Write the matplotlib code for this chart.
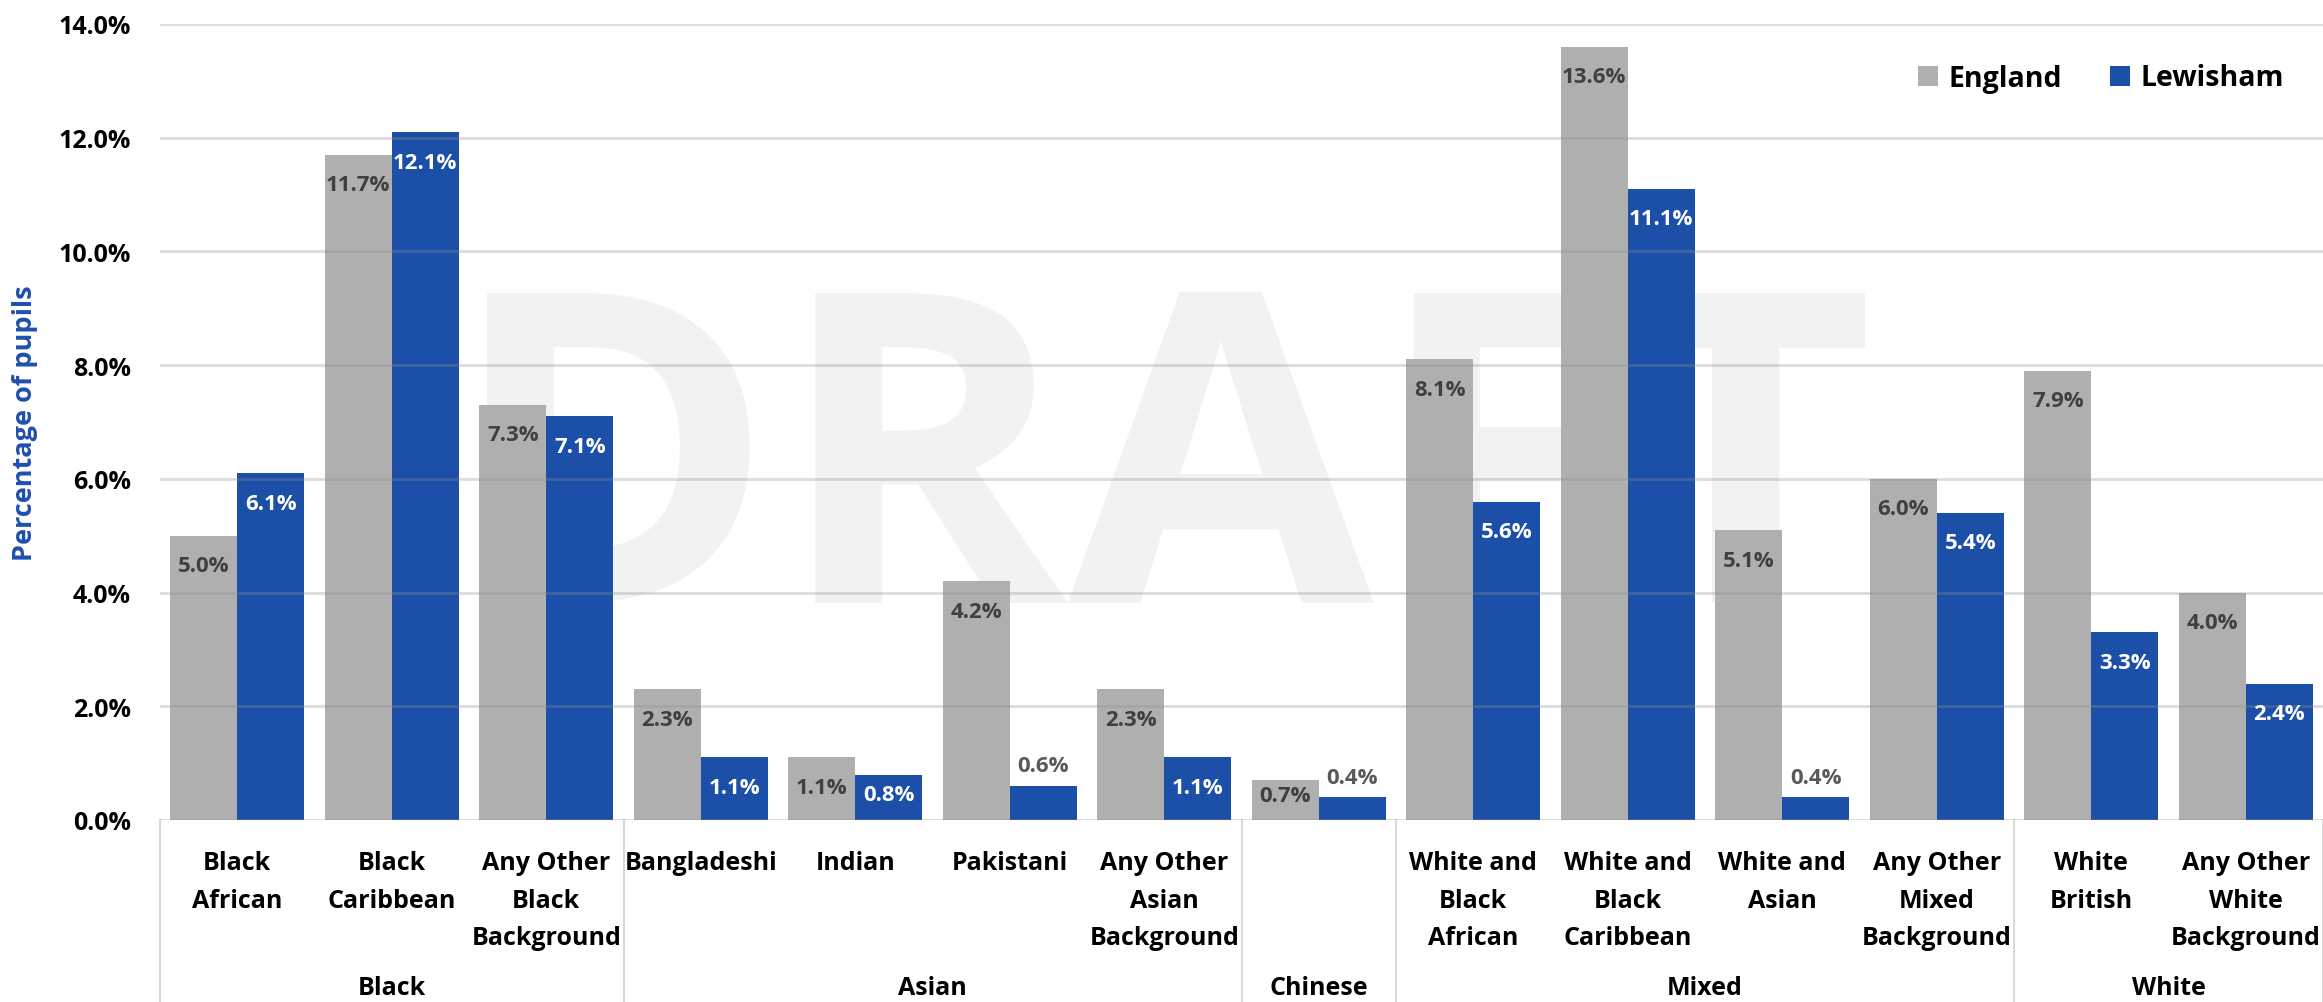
import matplotlib
matplotlib.use('Agg')
import matplotlib.pyplot as plt
import numpy as np
from matplotlib.textpath import TextPath
from matplotlib.font_manager import FontProperties
from matplotlib.patches import PathPatch, Patch
from matplotlib.transforms import Affine2D, blended_transform_factory
from matplotlib.lines import Line2D

# ---------------- data ----------------
groups = ['Black', 'Asian', 'Chinese', 'Mixed', 'White']
group_sizes = [3, 4, 1, 4, 2]
categories = ['Black\nAfrican', 'Black\nCaribbean', 'Any Other\nBlack\nBackground',
              'Bangladeshi', 'Indian', 'Pakistani', 'Any Other\nAsian\nBackground',
              '',
              'White and\nBlack\nAfrican', 'White and\nBlack\nCaribbean', 'White and\nAsian',
              'Any Other\nMixed\nBackground',
              'White\nBritish', 'Any Other\nWhite\nBackground']
england = [5.0, 11.7, 7.3, 2.3, 1.1, 4.2, 2.3, 0.7, 8.1, 13.6, 5.1, 6.0, 7.9, 4.0]
lewisham = [6.1, 12.1, 7.1, 1.1, 0.8, 0.6, 1.1, 0.4, 5.6, 11.1, 0.4, 5.4, 3.3, 2.4]
series_names = ['England', 'Lewisham']
yticks = [0, 2, 4, 6, 8, 10, 12, 14]
ylabel = 'Percentage of pupils'
watermark = 'DRAFT'

# ---------------- style ----------------
FAM = ['Open Sans', 'DejaVu Sans']
GRAY = '#afafaf'
BLUE = '#1b4fa8'
LBLUE = '#1f4fb0'

W, H = 2323, 1003
fig = plt.figure(figsize=(W / 100, H / 100), dpi=100)
ax = fig.add_axes([160 / W, (H - 821) / H, (W - 160) / W, (821 - 25) / H])

x = np.arange(len(categories))
bw = 0.434
bars_e = ax.bar(x - bw / 2, england, bw, color=GRAY, zorder=1, linewidth=0)
bars_l = ax.bar(x + bw / 2, lewisham, bw, color=BLUE, zorder=1, linewidth=0)

# watermark (behind the bars)
fp_wm = FontProperties(family=FAM, weight='bold')
tp = TextPath((0, 0), watermark, size=100, prop=fp_wm)
ext = tp.get_extents()
x0, x1 = 487 / W, 1865 / W
y0, y1 = (H - 604) / H, (H - 293) / H
trf = (Affine2D().translate(-ext.x0, -ext.y0)
       .scale((x1 - x0) / ext.width, (y1 - y0) / ext.height)
       .translate(x0, y0) + fig.transFigure)
wm = PathPatch(tp, transform=trf, facecolor='#f2f2f2', lw=0,
               zorder=0.5, clip_on=False)
ax.add_patch(wm)

ax.set_xlim(-0.5, len(categories) - 0.5)
ax.set_ylim(0, 14)
ax.set_yticks(yticks)
ax.set_yticklabels([f'{v:.1f}%' for v in yticks], fontfamily=FAM,
                   fontweight='bold', fontsize=18, color='black')
ax.set_xticks([])
ax.tick_params(axis='y', length=0, pad=21)
for s in ax.spines.values():
    s.set_visible(False)
ax.set_axisbelow(False)
ax.yaxis.grid(True, color='#909090', alpha=0.32, linewidth=2)

fig.text(25 / W, (H - 423) / H, ylabel, rotation=90, ha='center', va='center',
         fontfamily=FAM, fontweight='bold', fontsize=19.5, color=LBLUE)

# data labels
ppu = ax.transData.transform((0, 1))[1] - ax.transData.transform((0, 0))[1]
for bars, vals, inside_col in ((bars_e, england, '#404040'), (bars_l, lewisham, 'white')):
    for b, v in zip(bars, vals):
        xc = b.get_x() + b.get_width() / 2
        h = v * ppu
        if v < 0.65:
            off, col = 20, '#595959'
        else:
            off, col = max(-30, 25 - h), inside_col
        ax.annotate(f'{v:.1f}%', (xc, v), xytext=(0, off), textcoords='offset pixels',
                    ha='center', va='center', fontfamily=FAM, fontweight='bold',
                    fontsize=16, color=col, zorder=3)

# category labels
bt = blended_transform_factory(ax.transData, fig.transFigure)
for i, lab in enumerate(categories):
    if lab:
        ax.text(i, (H - 851) / H, lab, transform=bt, ha='center', va='top',
                fontfamily=FAM, fontweight='bold', fontsize=18, linespacing=1.67,
                color='black', clip_on=False)

start = 0
bounds = [-0.5]
for g, n in zip(groups, group_sizes):
    c = start + (n - 1) / 2
    ax.text(c, (H - 995) / H, g, transform=bt, ha='center', va='baseline',
            fontfamily=FAM, fontweight='bold', fontsize=18, color='black', clip_on=False)
    start += n
    bounds.append(start - 0.5)

for b in bounds:
    ax.add_line(Line2D([b, b], [0, (H - 821) / H], transform=bt, color='#d9d9d9',
                       linewidth=1.5, clip_on=False))

# legend
handles = [Patch(facecolor=GRAY, label=series_names[0]),
           Patch(facecolor=BLUE, label=series_names[1])]
fig.legend(handles=handles, loc='center right', bbox_to_anchor=(2298 / W, (H - 79) / H),
           ncol=2, frameon=False, borderpad=0, handlelength=0.7, handleheight=0.7,
           handletextpad=0.36, columnspacing=1.7,
           prop=FontProperties(family=FAM, weight='bold', size=20.5))

fig.savefig('out.png', dpi=100)
